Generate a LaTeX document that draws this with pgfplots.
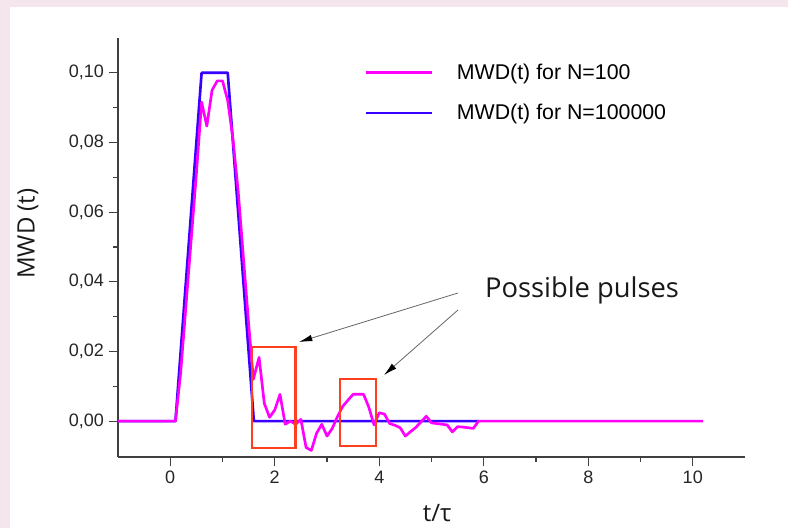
\documentclass[border=0pt]{standalone}
\usepackage{pgfplots}
\pgfplotsset{compat=1.18}
\usepackage{fontspec}
\setmainfont{Liberation Sans}
\newfontfamily\opensans{Open Sans}
\usetikzlibrary{arrows.meta}
\definecolor{bgpink}{RGB}{244,230,236}
\definecolor{mwdmag}{RGB}{255,0,255}
\definecolor{mwdblue}{RGB}{55,0,255}
\definecolor{boxred}{RGB}{255,64,32}
\definecolor{axgray}{RGB}{64,64,64}

\begin{document}
\begin{tikzpicture}
\fill[bgpink] (0,0) rectangle (591pt,396pt);
\fill[white] (7.5pt,0) rectangle (591pt,390.75pt);
\begin{axis}[
  at={(88.5pt,53.25pt)}, anchor=south west,
  scale only axis, width=470.25pt, height=314.25pt,
  xmin=-1, xmax=11, ymin=-0.0103, ymax=0.11,
  axis x line*=bottom, axis y line*=left,
  axis line style={axgray, line width=1pt, -},
  tick align=outside,
  major tick length=7pt, minor tick length=3.75pt,
  tick style={axgray, line width=0.9pt},
  xtick={0,2,...,10}, minor x tick num=1,
  ytick={0,0.02,0.04,0.06,0.08,0.10}, minor y tick num=1,
  ticklabel style={font=\fontsize{13.5}{15}\selectfont, text=black!85},
  /pgf/number format/assume math mode=true,
  yticklabel style={/pgf/number format/.cd, fixed, fixed zerofill, precision=2, use comma},
  scaled y ticks=false,
  xlabel={\opensans t/τ}, ylabel={\opensans MWD (t)},
  label style={font=\fontsize{18}{21}\selectfont, text=black!90},
  xlabel style={at={(axis description cs:0.509,-0.1337)}, anchor=center},
  ylabel style={at={(axis description cs:-0.1435,0.533)}, anchor=center},
  clip=false,
  reverse legend,
  legend style={legend cell align=left, draw=none, fill=none,
    font=\fontsize{16}{19}\selectfont,
    at={(axis cs:3.72,0.1035)}, anchor=north west, inner sep=0pt,
    row sep=13.5pt, nodes={inner sep=2pt}},
  legend image code/.code={\draw[#1] (0pt,0pt) -- (49.5pt,0pt); \path[draw=none,fill=none] (66pt,0pt);},
]
\addplot[mwdblue, line width=2pt, line join=round] coordinates {
(-1,0) (0.1,0) (0.6,0.1) (1.1,0.1) (1.6,0) (5.9,0)
};
\addlegendentry{MWD(t) for N=100000}
\addplot[mwdmag, line width=2pt, line join=round] coordinates {
(-1,0) (0.1,0) (0.2,0.014) (0.3,0.033) (0.4,0.052) (0.5,0.071)
(0.6,0.0916) (0.7,0.0847) (0.8,0.095) (0.9,0.0977) (1.0,0.0977)
(1.1,0.092) (1.2,0.081) (1.3,0.066) (1.4,0.047) (1.5,0.028) (1.59,0.012)
(1.7,0.0183) (1.8,0.0051) (1.9,0.0011) (2.0,0.0032) (2.1,0.0077)
(2.2,-0.0009) (2.3,0) (2.4,-0.0009) (2.5,0.0005) (2.6,-0.0076)
(2.7,-0.0084) (2.8,-0.0035) (2.9,-0.0009) (3.0,-0.0043) (3.1,-0.0021)
(3.2,0.0013) (3.3,0.0042) (3.4,0.006) (3.5,0.0077) (3.6,0.0077)
(3.7,0.0077) (3.8,0.004) (3.9,-0.0011) (4.0,0.0024) (4.1,0.002)
(4.2,-0.0007) (4.3,-0.0012) (4.4,-0.0019) (4.5,-0.0043) (4.6,-0.003)
(4.7,-0.0018) (4.8,-0.0002) (4.9,0.0014) (5.0,-0.0005) (5.1,-0.0007)
(5.2,-0.0009) (5.3,-0.0011) (5.4,-0.0031) (5.5,-0.0016) (5.6,-0.0017)
(5.7,-0.0019) (5.8,-0.0021) (5.9,0) (10.2,0)
};
\addlegendentry{MWD(t) for N=100}
\draw[boxred, line width=1.8pt] (axis cs:1.56,0.0213) rectangle (axis cs:2.40,-0.0077);
\draw[boxred, line width=1.8pt] (axis cs:3.25,0.0121) rectangle (axis cs:3.94,-0.0071);
\end{axis}
\begin{scope}[x=0.75pt, y=-0.75pt, shift={(0,396pt)}]
\draw[black!60, line width=0.6pt, -{Latex[length=10pt,width=5pt,color=black]}] (458,293) -- (299,342);
\draw[black!60, line width=0.6pt, -{Latex[length=10pt,width=5pt,color=black]}] (458,310) -- (384,375);
\node[font=\opensans\fontsize{20.5}{24}\selectfont, text=black!90] at (582,290) {Possible pulses};
\end{scope}
\end{tikzpicture}
\end{document}
